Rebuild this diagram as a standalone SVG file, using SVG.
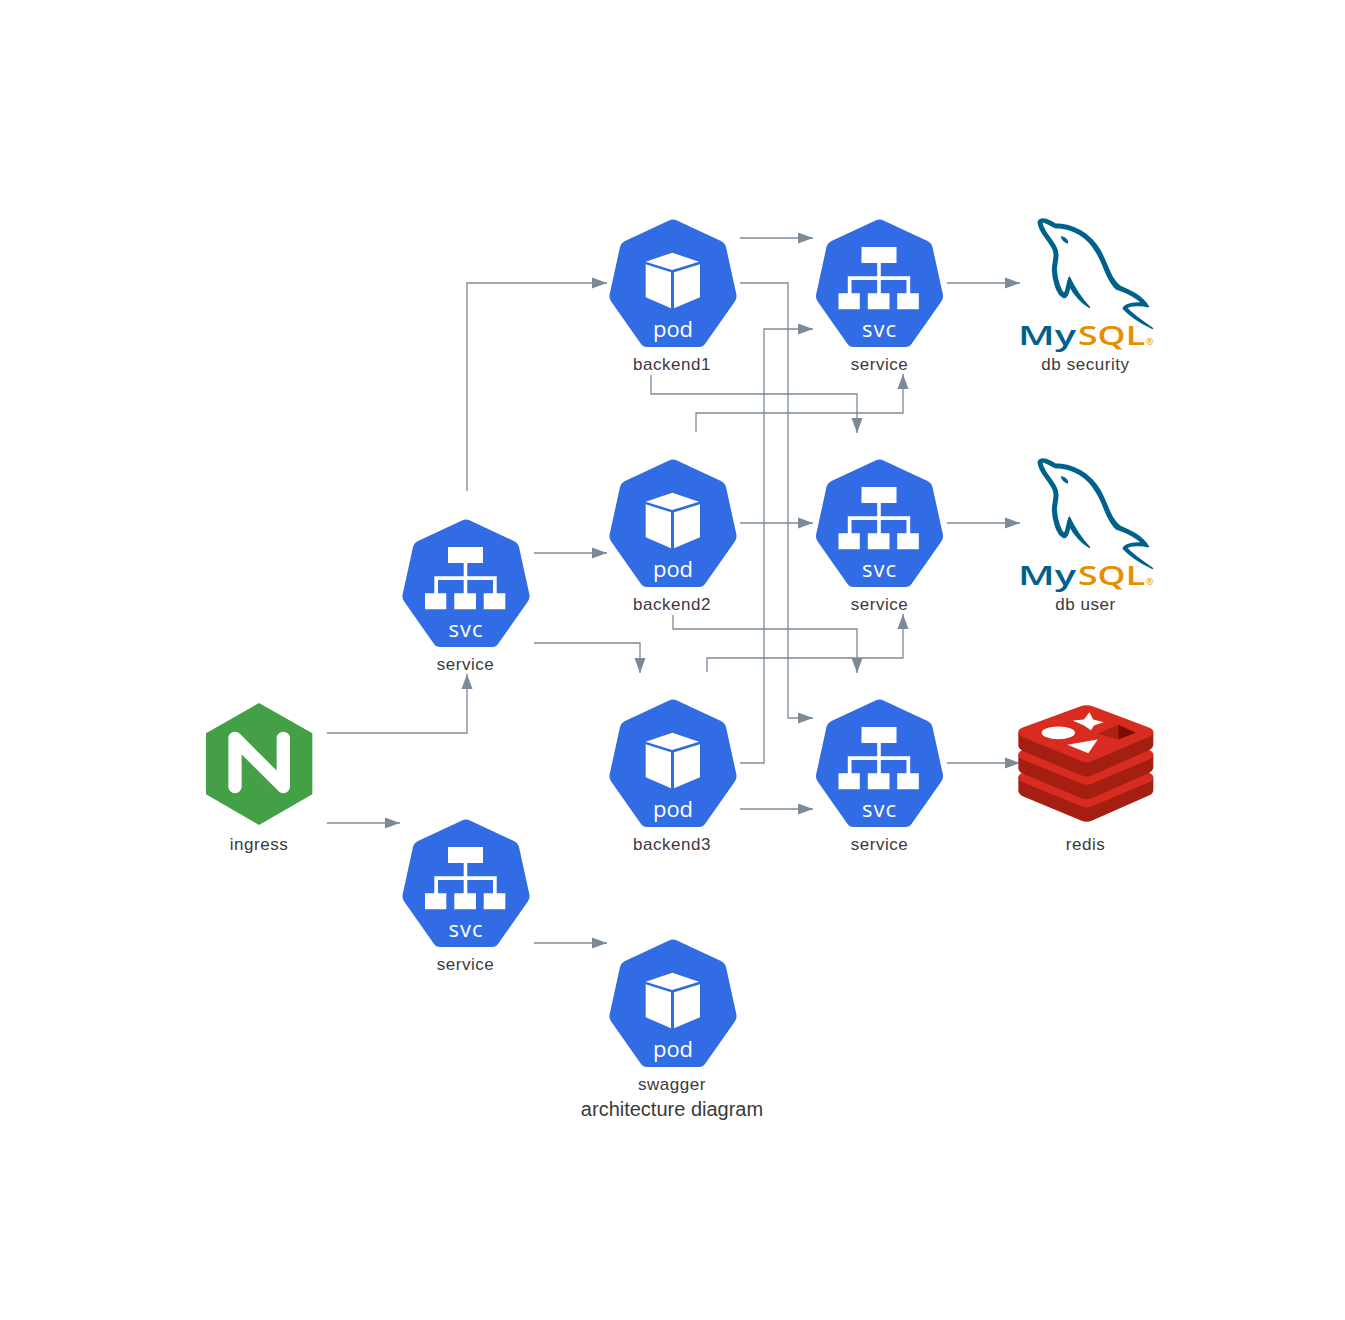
<svg xmlns="http://www.w3.org/2000/svg" xmlns:xlink="http://www.w3.org/1999/xlink" width="1345" height="1320" viewBox="0 0 1345 1320">
<style>
.lbl{font-family:"Liberation Sans",Arial,sans-serif;font-size:17px;letter-spacing:.55px;fill:#3a3a3a;text-anchor:middle}
.title{font-family:"Liberation Sans",Arial,sans-serif;font-size:20px;fill:#3a3a3a;text-anchor:middle}
.ico{font-family:"Open Sans",sans-serif;font-size:22px;fill:#fff;text-anchor:middle}
.c{fill:none;stroke:#7c8a97;stroke-width:1.3;marker-end:url(#a)}
.hep{fill:#326ce5}
.w{fill:#fff}
.m{font-family:"Open Sans",sans-serif;font-weight:600;font-size:27px}
</style>
<defs>
<marker id="a" markerUnits="userSpaceOnUse" markerWidth="16" markerHeight="12" refX="15" refY="6" orient="auto"><path d="M0 .5L15 6L0 11.500Z" fill="#7c8a97"/></marker>
<path id="hept" d="M60 1.500Q64 -.5 68 1.500L112 22Q116 24 117 28L127.500 76Q128 80 125.500 83L96 125Q94 128 90 128L38 128Q34 128 32 125L2.500 83Q0 80 .5 76L11 28Q12 24 16 22Z"/>
<g id="pod"><use xlink:href="#hept" href="#hept" class="hep"/>
<path class="w" d="M63.300 33.700L90 42.700L63.300 51L36.700 42.700Z M36.700 45.300L62 53.300V89.300L36.700 78.300Z M65 53.300L91 45.300V78.300L65 89.300Z"/>
<text class="ico" x="64" y="117.500">pod</text></g>
<g id="svc"><use xlink:href="#hept" href="#hept" class="hep"/>
<path class="w" d="M46 28H81V44H65.300V57.300H94.700V74.300H91V61H65.300V74.300H61.700V61H36V74.300H32.300V57.300H61.700V44H46Z M23 74.300H44.300V90.300H23Z M52.300 74.300H74V90.300H52.300Z M81.700 74.300H103.300V90.300H81.700Z"/>
<text class="ico" x="64" y="117.500" letter-spacing="1">svc</text></g>
<g id="mysql">
<path fill="#00618a" stroke="#00618a" stroke-width="5" stroke-linejoin="round" transform="translate(0 -1) scale(.3333)" d="M85 38C95 22 120 35 135 45C190 45 240 75 270 125C295 170 300 210 330 232C360 245 395 260 415 293C395 288 365 288 348 296C370 320 400 340 427 358C390 340 360 320 340 298C345 285 375 280 398 283C375 262 345 248 320 240C290 215 285 170 260 130C235 85 190 55 135 55C120 50 105 35 95 38C95 60 120 85 135 110C150 135 140 155 138 180C140 210 150 245 163 255C170 245 170 225 178 205C195 240 215 270 238 295C215 280 195 260 180 232C175 250 172 268 160 265C140 255 128 210 128 180C130 150 140 135 125 112C110 85 85 65 85 38Z M155 84C163 86 172 92 172 101C165 98 158 92 155 84Z"/>
<text class="m" x="8" y="135" fill="#00618a" textLength="58" lengthAdjust="spacingAndGlyphs">My</text>
<text class="m" x="68" y="135" fill="#e48e00" textLength="67" lengthAdjust="spacingAndGlyphs">SQL</text>
<text x="136" y="135" font-family="Open Sans,sans-serif" font-size="9" fill="#e48e00">®</text>
</g>
<g id="layer"><path fill="#a41e11" d="M25 108V150Q25 160 40 167L215 240Q230 246 245 240L415 165Q430 158 430 148V108Z"/>
<path fill="#d82c20" d="M25 110Q25 100 40 95L210 33Q230 26 250 33L415 95Q430 100 430 110Q430 118 415 125L245 197Q230 203 215 197L40 125Q25 118 25 110Z"/></g>
</defs>

<g id="connectors">
<path class="c" d="M740 238H813"/>
<path class="c" d="M740 283H788V718H813"/>
<path class="c" d="M947 283H1020"/>
<path class="c" d="M651 375V394H857V433"/>
<path class="c" d="M696 432V413H903V374"/>
<path class="c" d="M740 763H764V329H813"/>
<path class="c" d="M740 523H813"/>
<path class="c" d="M947 523H1020"/>
<path class="c" d="M673 615V629H857V673"/>
<path class="c" d="M707 672V658H903V614"/>
<path class="c" d="M534 553H607"/>
<path class="c" d="M534 643H640V673"/>
<path class="c" d="M467 491V283H607"/>
<path class="c" d="M327 733H467V674"/>
<path class="c" d="M327 823H400"/>
<path class="c" d="M534 943H607"/>
<path class="c" d="M740 809H813"/>
<path class="c" d="M947 763H1020"/>
</g>

<g id="backend1"><use href="#pod" xlink:href="#pod" x="609" y="219"/><text class="lbl" x="672" y="370">backend1</text></g>
<g id="backend2"><use href="#pod" xlink:href="#pod" x="609" y="459"/><text class="lbl" x="672" y="610">backend2</text></g>
<g id="backend3"><use href="#pod" xlink:href="#pod" x="609" y="699"/><text class="lbl" x="672" y="850">backend3</text></g>
<g id="swagger"><use href="#pod" xlink:href="#pod" x="609" y="939"/><text class="lbl" x="672" y="1090">swagger</text></g>
<g id="svc-security"><use href="#svc" xlink:href="#svc" x="815.500" y="219"/><text class="lbl" x="879.500" y="370">service</text></g>
<g id="svc-user"><use href="#svc" xlink:href="#svc" x="815.500" y="459"/><text class="lbl" x="879.500" y="610">service</text></g>
<g id="svc-redis"><use href="#svc" xlink:href="#svc" x="815.500" y="699"/><text class="lbl" x="879.500" y="850">service</text></g>
<g id="svc-backend"><use href="#svc" xlink:href="#svc" x="402" y="519"/><text class="lbl" x="465.500" y="670">service</text></g>
<g id="svc-swagger"><use href="#svc" xlink:href="#svc" x="402" y="819"/><text class="lbl" x="465.500" y="970">service</text></g>
<g id="db-security"><use href="#mysql" xlink:href="#mysql" x="1010" y="210"/><text class="lbl" x="1085.500" y="370">db security</text></g>
<g id="db-user"><use href="#mysql" xlink:href="#mysql" x="1010" y="450"/><text class="lbl" x="1085.500" y="610">db user</text></g>
<g id="redis">
<g transform="translate(1010 695.500) scale(.3333)">
<use href="#layer" xlink:href="#layer" y="136"/><use href="#layer" xlink:href="#layer" y="68"/><use href="#layer" xlink:href="#layer"/>
<ellipse class="w" cx="145" cy="112" rx="50" ry="19"/>
<path class="w" d="M188 75L222 72L238 50L250 72L281 80L252 90L243 104L222 90Z"/>
<path class="w" d="M172 148L263 132L235 173Z"/>
<path fill="#ad2115" d="M262 115L325 88V132Z"/>
<path fill="#7a0c00" d="M325 88L378 112L325 132Z"/>
</g>
<text class="lbl" x="1085.500" y="850">redis</text></g>
<g id="ingress">
<g transform="translate(195 695) scale(.3333)">
<path fill="#43a047" d="M192 24L352 115V298L192 390L33 298V115Z"/>
<path fill="none" stroke="#fff" stroke-width="40" stroke-linecap="round" stroke-linejoin="round" d="M120 275V130L265 275V130"/>
</g>
<text class="lbl" x="259" y="850">ingress</text></g>
<text class="title" id="title" x="672" y="1116">architecture diagram</text>
</svg>
